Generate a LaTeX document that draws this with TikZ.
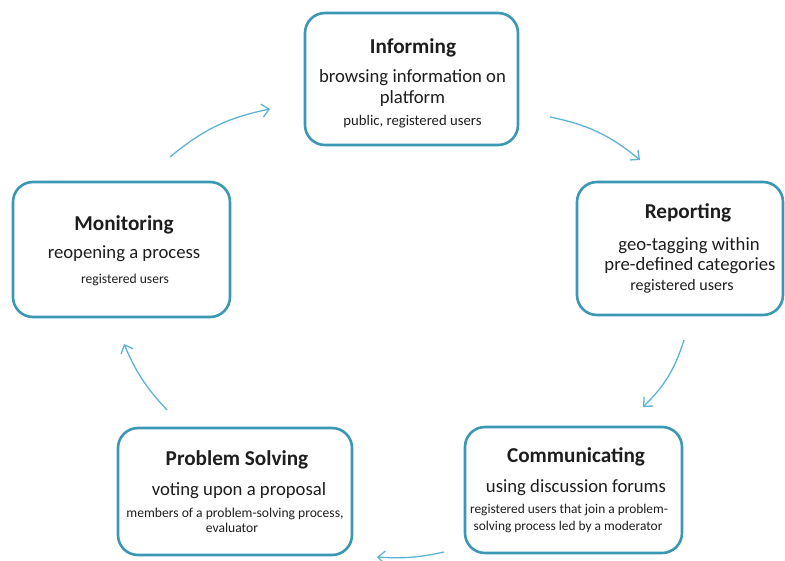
\documentclass[tikz,border=0pt]{standalone}
\usepackage{fontspec}
\setmainfont{Carlito}
\usetikzlibrary{arrows.meta}
\definecolor{boxline}{HTML}{3A98B4}
\definecolor{arrowcol}{HTML}{5DB3D4}
\definecolor{txt}{HTML}{1E1E1E}
\begin{document}
\begin{tikzpicture}[x=1pt,y=-1pt,
  stagebox/.style={draw=boxline,line width=2.6pt,rounded corners=20pt,fill=white,inner sep=0pt},
  ttl/.style={anchor=base,inner sep=0pt,text=txt,font=\fontsize{21.2}{25}\selectfont\bfseries},
  bdy/.style={anchor=base,inner sep=0pt,text=txt,font=\fontsize{18.7}{22}\selectfont},
  sml/.style={anchor=base,inner sep=0pt,text=txt,font=\fontsize{#1}{17}\selectfont},
  cyc/.style={draw=arrowcol,line width=1.3pt,-{Straight Barb[length=7pt,width=13pt,line width=1.3pt]}}]
\useasboundingbox (0,0) rectangle (785,560);

% Informing
\node[stagebox,minimum width=213pt,minimum height=132pt] (inf) at (411.5,79) {};
\node[ttl] (infT) at (413,53) {Informing};
\node[bdy] (infB1) at (412.5,82) {browsing information on};
\node[bdy] (infB2) at (412.5,103) {platform};
\node[sml=14.7] (infS) at (412.5,125.5) {public, registered users};

% Reporting
\node[stagebox,minimum width=206pt,minimum height=133pt] (rep) at (680,248.5) {};
\node[ttl] (repT) at (688,218) {Reporting};
\node[bdy] (repB1) at (689,250) {geo-tagging within};
\node[bdy] (repB2) at (690,270) {pre-defined categories};
\node[sml=16] (repS) at (682,290) {registered users};

% Communicating
\node[stagebox,minimum width=217pt,minimum height=126pt] (com) at (573.5,490) {};
\node[ttl] (comT) at (576,462) {Communicating};
\node[bdy] (comB) at (576,492.5) {using discussion forums};
\node[sml=13.4] (comS1) at (569,513.5) {registered users that join a problem-};
\node[sml=13.4] (comS2) at (568,530) {solving process led by a moderator};

% Problem Solving
\node[stagebox,minimum width=234pt,minimum height=127pt] (pro) at (235,491.5) {};
\node[ttl] (proT) at (237,465) {Problem Solving};
\node[bdy] (proB) at (239,495) {voting upon a proposal};
\node[sml=13.6] (proS1) at (235,517) {members of a problem-solving process,};
\node[sml=13.6] (proS2) at (232,532.5) {evaluator};

% Monitoring
\node[stagebox,minimum width=217pt,minimum height=135pt] (mon) at (121.5,249.5) {};
\node[ttl] (monT) at (124,230) {Monitoring};
\node[bdy] (monB) at (124,258.5) {reopening a process};
\node[sml=13.6] (monS) at (125,283.5) {registered users};

\coordinate (a1s) at (170,157); \coordinate (a1e) at (270,109);
\coordinate (a2s) at (550,117); \coordinate (a2e) at (640,160);
\coordinate (a3s) at (684,340); \coordinate (a3e) at (643,407);
\coordinate (a4s) at (444,552); \coordinate (a4e) at (377,557);
\coordinate (a5s) at (167,410); \coordinate (a5e) at (124,344);

\draw[cyc] (a1s) to[bend left=14] (a1e);
\draw[cyc] (a2s) to[bend left=14] (a2e);
\draw[cyc] (a3s) to[bend left=14] (a3e);
\draw[cyc] (a4s) to[bend left=8] (a4e);
\draw[cyc] (a5s) to[bend left=10] (a5e);
\end{tikzpicture}
\end{document}
